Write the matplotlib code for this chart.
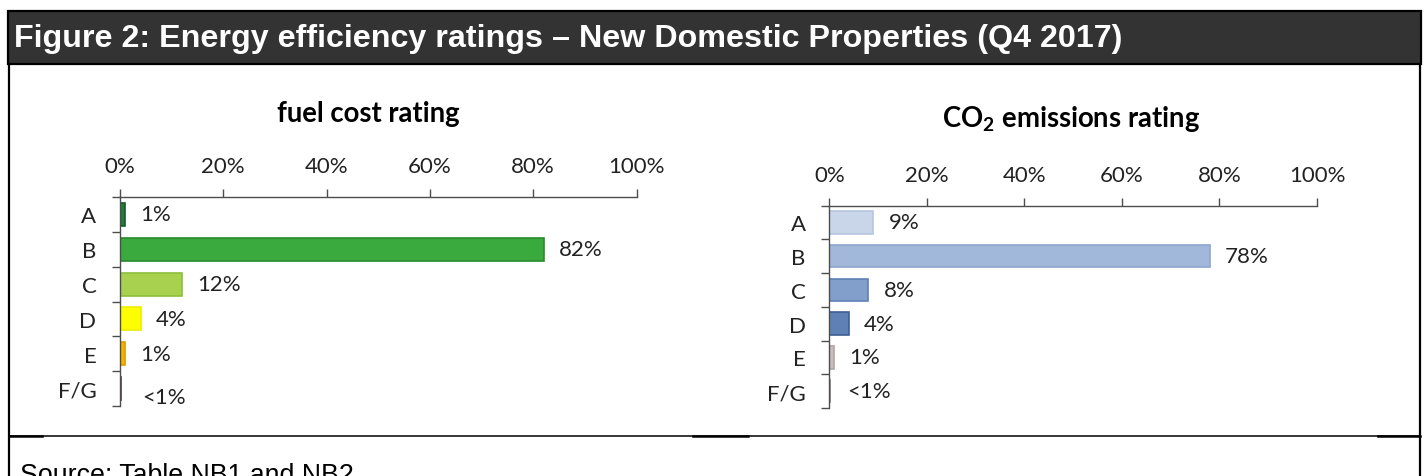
import matplotlib
matplotlib.use("Agg")
import matplotlib.pyplot as plt
from matplotlib.patches import Rectangle
from matplotlib.lines import Line2D

plt.rcParams['font.family'] = ['Lato', 'DejaVu Sans']
plt.rcParams['mathtext.fontset'] = 'custom'
plt.rcParams['mathtext.rm'] = 'Lato:bold'

# data
ratings = ['A', 'B', 'C', 'D', 'E', 'F/G']
fuel_cost = [1, 82, 12, 4, 1, 0.2]
fuel_labels = ['1%', '82%', '12%', '4%', '1%', '<1%']
co2 = [9, 78, 8, 4, 1, 0.2]
co2_labels = ['9%', '78%', '8%', '4%', '1%', '<1%']
xticks = [0, 20, 40, 60, 80, 100]

fuel_colors = ['#217a3a', '#3aaa3e', '#a8d150', '#ffff00', '#f7b200', '#5a3a3a']
fuel_edges = ['#155e2a', '#2a8a2e', '#8cbf3a', '#eeee00', '#e09a00', '#5a3a3a']
co2_colors = ['#c9d6ea', '#a2b8db', '#819fca', '#5f80b5', '#c8bdbd', '#8f8585']
co2_edges = ['#b6c6e0', '#8ea6cc', '#5f80b4', '#3f5f94', '#b0a5a5', '#8f8585']

W, H = 1424, 477
fig = plt.figure(figsize=(W / 100, H / 100), dpi=100)


def fx(x):
    return x / W


def fy(y):
    return 1 - y / H


def hline(x0, x1, y, lw):
    fig.add_artist(Line2D([fx(x0), fx(x1)], [fy(y), fy(y)], color='black',
                          lw=lw, transform=fig.transFigure))


def vline(x, y0, y1, lw):
    fig.add_artist(Line2D([fx(x), fx(x)], [fy(y0), fy(y1)], color='black',
                          lw=lw, transform=fig.transFigure))


# header band
fig.add_artist(Rectangle((fx(8), fy(65)), (1421 - 8) / W, (65 - 12) / H,
                         facecolor='#333333', edgecolor='black', lw=1.6,
                         transform=fig.transFigure))
fig.text(fx(13.5), fy(47), 'Figure 2: Energy efficiency ratings \u2013 New Domestic Properties (Q4 2017)',
         color='white', fontsize=23.2, fontweight='bold', family='Liberation Sans', va='baseline')

# frame lines
vline(9, 65, 477, 1.6)
vline(1420, 65, 477, 1.6)
hline(9, 1420, 437, 1.1)
hline(9, 42, 436.5, 1.8)
hline(693, 748, 436.5, 1.8)
hline(1378, 1420, 436.5, 1.8)

# source line, cut off by the bottom edge as in the original
fig.text(fx(20), fy(483), 'Source: Table NB1 and NB2', fontsize=19.3,
         family='Liberation Sans', va='baseline', color='black')


def draw_panel(rect, values, labels, colors, edges, title, title_xy, small_offset):
    ax = fig.add_axes(rect)
    y = list(range(len(ratings)))
    ax.barh(y, values, height=0.66, color=colors, edgecolor=edges, linewidth=1.2)
    ax.set_xlim(0, 100)
    ax.set_ylim(len(ratings) - 0.5, -0.5)
    ax.xaxis.tick_top()
    ax.set_xticks(xticks)
    ax.set_xticklabels([f'{t}%' for t in xticks])
    ax.set_yticks(y)
    ax.set_yticklabels(ratings)
    ax.set_yticks([i - 0.5 for i in range(len(ratings) + 1)], minor=True)
    ax.tick_params(axis='x', which='major', direction='out', length=6, width=1,
                   color='#4d4d4d', labelsize=16, labelcolor='#222222', pad=9)
    ax.tick_params(axis='y', which='major', length=0, labelsize=16,
                   labelcolor='#222222', pad=17)
    ax.tick_params(axis='y', which='minor', direction='out', length=6, width=1,
                   color='#4d4d4d')
    for side in ['right', 'bottom']:
        ax.spines[side].set_visible(False)
    for side in ['top', 'left']:
        ax.spines[side].set_color('#4d4d4d')
        ax.spines[side].set_linewidth(1)
    for i, (v, lab) in enumerate(zip(values, labels)):
        off = (11, 0) if lab != '<1%' else small_offset
        ax.annotate(lab, xy=(v, i), xytext=off, textcoords='offset points',
                    va='center', ha='left', fontsize=16, color='#222222')
    fig.text(fx(title_xy[0]), fy(title_xy[1]), title, ha='center', va='baseline',
             fontsize=19.8, fontweight='bold', color='black')
    return ax


draw_panel([fx(120), fy(407.3), (636.5 - 120) / W, (407.3 - 197.7) / H],
           fuel_cost, fuel_labels, fuel_colors, fuel_edges,
           'fuel cost rating', (368, 122), (15, -6))
draw_panel([fx(829.3), fy(409), (1317 - 829.3) / W, (409 - 206.5) / H],
           co2, co2_labels, co2_colors, co2_edges,
           r'CO$_\mathrm{2}$ emissions rating', (1071, 127), (12, 0))

fig.savefig('out.png', dpi=100)
